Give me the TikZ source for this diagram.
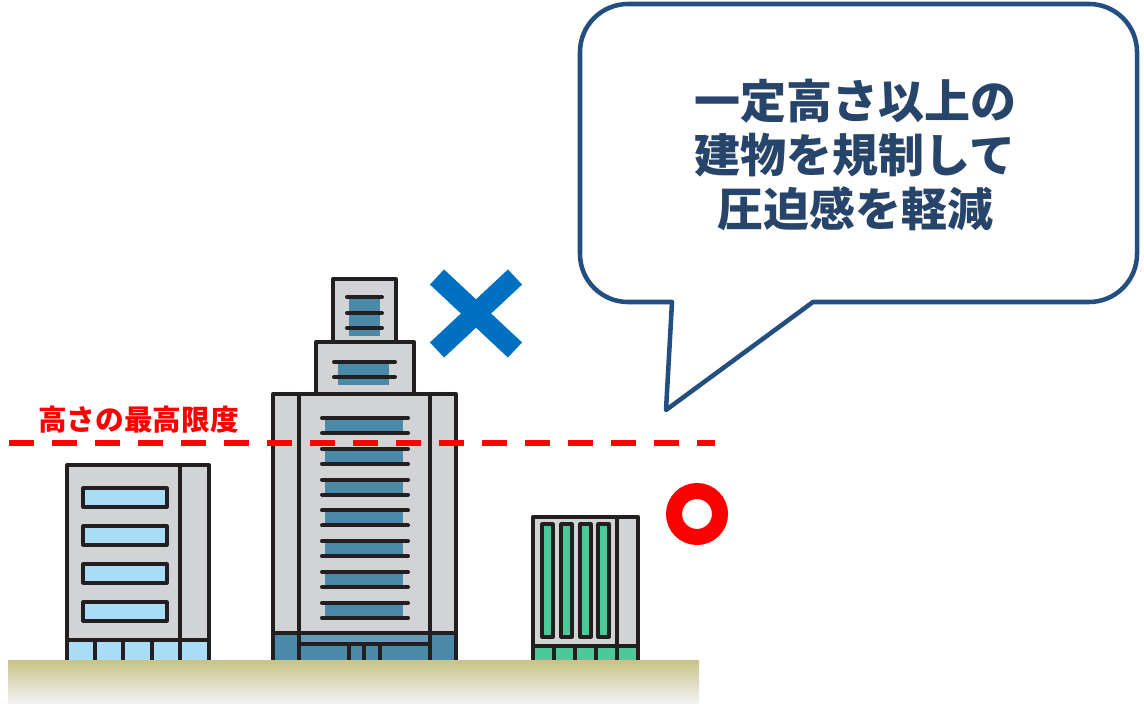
\documentclass[tikz,border=0pt]{standalone}
\usepackage{fontspec}
\newfontfamily\jp{Noto Sans CJK JP}
\definecolor{ink}{HTML}{231F20}
\definecolor{bodygray}{HTML}{D1D3D4}
\definecolor{steel}{HTML}{4A89A8}
\definecolor{sky}{HTML}{A9DDF6}
\definecolor{mint}{HTML}{4CC99A}
\definecolor{crossblue}{HTML}{0070C0}
\definecolor{bubbleblue}{HTML}{234E80}
\definecolor{bubbletext}{HTML}{27446A}
\definecolor{groundtop}{HTML}{C8C387}
\definecolor{groundbot}{HTML}{F2F4F4}
\begin{document}
\begin{tikzpicture}[x=0.75pt,y=-0.75pt,
  outline/.style={draw=ink,line width=3pt,line join=round},
  thin outline/.style={draw=ink,line width=2.4pt,line join=round},
  winline/.style={draw=ink,line width=3pt,line cap=round},
  limitline/.style={draw=red,line width=4.5pt,dash pattern=on 18.5pt off 13.75pt},
]
\useasboundingbox (0,0) rectangle (1144,707);

% ---------- speech bubble ----------
\draw[draw=bubbleblue,line width=3.4pt,line join=round,fill=white]
  (813,302) -- (1089,302) arc[start angle=90,end angle=0,radius=48]
  -- (1137,52) arc[start angle=0,end angle=-90,radius=48]
  -- (628,4) arc[start angle=-90,end angle=-180,radius=48]
  -- (580,254) arc[start angle=180,end angle=90,radius=48]
  -- (672,302) -- (666,410) -- cycle;
\node[font=\jp\bfseries\fontsize{34.5pt}{40.5pt}\selectfont,text=bubbletext,
  align=center,inner sep=0pt] (msg) at (855,155)
  {一定高さ以上の\\建物を規制して\\圧迫感を軽減};

% ---------- left building ----------
\fill[bodygray] (67,465) rectangle (209,660);
\fill[sky] (67,640) rectangle (209,660);
\foreach \y in {488,526,564,602}
  \draw[thin outline,fill=sky] (83,\y) rectangle (167,\y+19);
\draw[outline] (67,660) -- (67,465) -- (209,465) -- (209,660);
\draw[outline] (180,465) -- (180,660);
\draw[outline] (67,640) -- (209,640);
\foreach \x in {95,123,152}
  \draw[outline] (\x,640) -- (\x,660);

% ---------- tall building ----------
% top tier
\draw[outline,fill=bodygray] (333,279) rectangle (396,342);
\fill[steel] (349,299) rectangle (380,336);
\foreach \y in {297,313,328}
  \draw[winline] (347,\y) -- (382,\y);
% middle tier
\draw[outline,fill=bodygray] (316,342) rectangle (414,394);
\fill[steel] (338,363) rectangle (389,385);
\foreach \y in {362,377}
  \draw[winline] (334,\y) -- (395,\y);
% main body
\fill[bodygray] (273,394) rectangle (456,660);
\fill[steel] (273,633) rectangle (456,660);
\fill[steel!85!white] (299,633) rectangle (430,644);
\foreach \k in {0,...,6} {
  \fill[steel] (325,418+30.8*\k) rectangle (403,433+30.8*\k);
  \draw[winline] (322,418+30.8*\k) -- (408,418+30.8*\k);
  \draw[winline] (322,433+30.8*\k) -- (408,433+30.8*\k);
}
\draw[outline] (273,660) -- (273,394) -- (456,394) -- (456,660);
\draw[outline] (299,394) -- (299,660);
\draw[outline] (430,394) -- (430,660);
\draw[outline] (273,633) -- (456,633);
\draw[outline] (299,644) -- (430,644);
\foreach \x in {349,364,380}
  \draw[outline] (\x,644) -- (\x,660);

% ---------- right building ----------
\fill[bodygray] (533,517) rectangle (638,660);
\fill[mint] (533,646) rectangle (638,660);
\foreach \x in {542,561,580,598}
  \draw[thin outline,fill=mint] (\x,524) rectangle (\x+11,637);
\draw[outline] (533,660) -- (533,517) -- (638,517) -- (638,660);
\draw[outline] (617,517) -- (617,660);
\draw[outline] (533,646) -- (638,646);
\foreach \x in {554,575,596}
  \draw[outline] (\x,646) -- (\x,660);

% ---------- ground ----------
\shade[top color=groundtop,bottom color=groundbot] (8,660) rectangle (699,703);

% ---------- height limit ----------
\draw[limitline] (9,443) -- (715,443);
\node[font=\jp\bfseries\fontsize{21.5pt}{24pt}\selectfont,text=red,
  anchor=west,inner sep=0pt] (limit) at (38,420) {高さの最高限度};

% ---------- marks ----------
\draw[crossblue,line width=15.5pt] (437,277) -- (515,350);
\draw[crossblue,line width=15.5pt] (515,277) -- (437,350);
\draw[red,line width=12pt] (697,514) circle[radius=23];
\end{tikzpicture}
\end{document}
